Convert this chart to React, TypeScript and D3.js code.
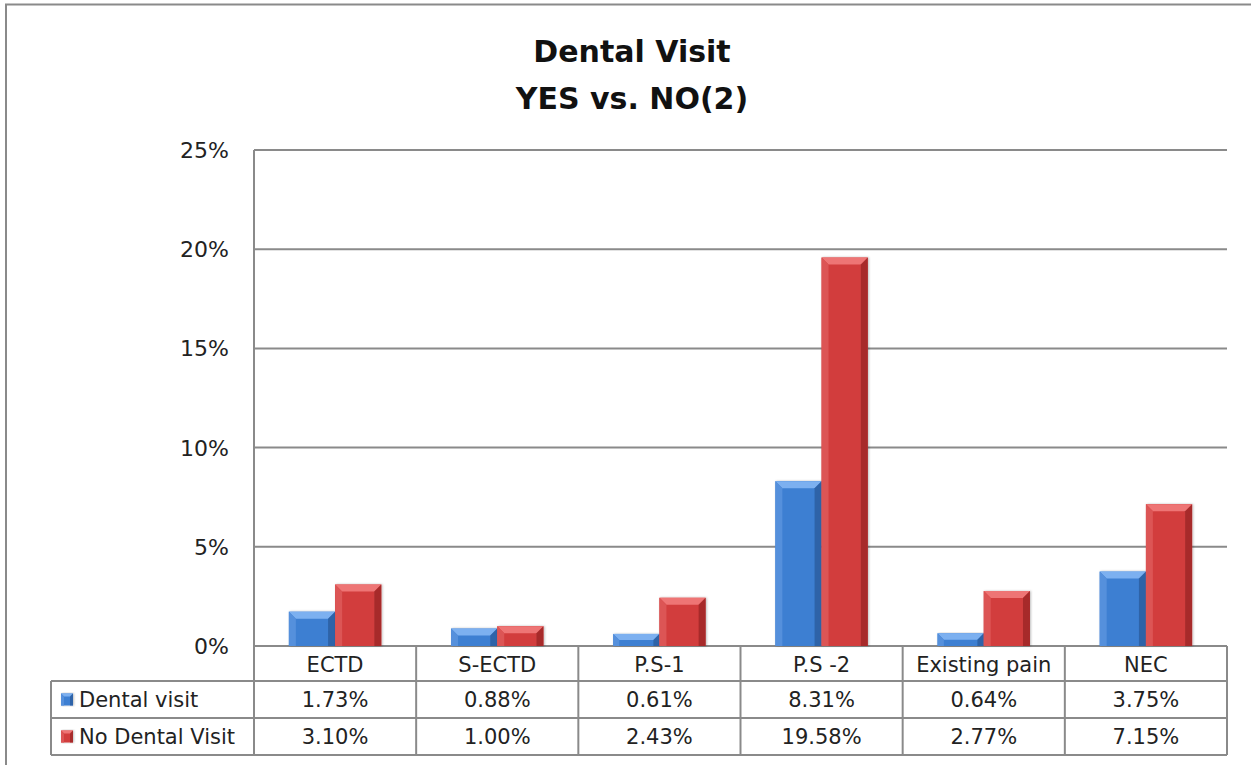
import { format, scaleBand, scaleLinear } from "d3";

// chart data
const categories = ["ECTD", "S-ECTD", "P.S-1", "P.S -2", "Existing pain", "NEC"];
const seriesNames = ["Dental visit", "No Dental Visit"];
const dentalVisit = [0.0173, 0.0088, 0.0061, 0.0831, 0.0064, 0.0375];
const noDentalVisit = [0.031, 0.01, 0.0243, 0.1958, 0.0277, 0.0715];
const yTicks = [0, 0.05, 0.1, 0.15, 0.2, 0.25];

const W = 1251;
const H = 765;
const FONT = "'DejaVu Sans', sans-serif";
const GRID = "#8a8a8a";

const plot = { left: 254, right: 1227, top: 150, bottom: 646 };
const rowH = [35, 37, 37];
const tableLeft = 51;

const palette = [
  { main: "#3d7fd2", light: "#7cb0f0", dark: "#2a5c9e", side: "#5590dc" },
  { main: "#d23e3e", light: "#ee7474", dark: "#9c2828", side: "#dc5454" },
];

const Bar = ({ x, y, w, h, c }: { x: number; y: number; w: number; h: number; c: (typeof palette)[0] }) => {
  const b = Math.min(7, h / 2, w / 4);
  return (
    <g filter="url(#shadow)">
      <rect x={x} y={y} width={w} height={h} fill={c.main} />
      {/* top bevel */}
      <polygon points={`${x},${y} ${x + w},${y} ${x + w - b},${y + b} ${x + b},${y + b}`} fill={c.light} />
      {/* left bevel */}
      <polygon points={`${x},${y} ${x + b},${y + b} ${x + b},${y + h} ${x},${y + h}`} fill={c.side} />
      {/* right bevel */}
      <polygon points={`${x + w},${y} ${x + w - b},${y + b} ${x + w - b},${y + h} ${x + w},${y + h}`} fill={c.dark} opacity={0.8} />
    </g>
  );
};

export default function App() {
  const y = scaleLinear().domain([0, 0.25]).range([plot.bottom, plot.top]);
  const xCol = scaleBand().domain(categories).range([plot.left, plot.right]);
  const xBar = scaleBand()
    .domain(categories)
    .range([plot.left, plot.right])
    .paddingInner(0.43)
    .paddingOuter(0.215);
  const xSeries = scaleBand().domain(seriesNames).range([0, xBar.bandwidth()]);
  const pct = format(".0%");
  const pct2 = format(".2%");
  const values = [dentalVisit, noDentalVisit];

  const r0 = plot.bottom;
  const r1 = r0 + rowH[0];
  const r2 = r1 + rowH[1];
  const r3 = r2 + rowH[2];

  return (
    <svg width={W} height={H} style={{ position: "absolute", left: 0, top: 0, background: "#fff" }}>
      <defs>
        <filter id="shadow" x="-20%" y="-10%" width="140%" height="120%">
          <feDropShadow dx="1" dy="0" stdDeviation="1.2" floodColor="#000" floodOpacity="0.25" />
        </filter>
      </defs>

      {/* outer border */}
      <rect x={6} y={4.5} width={W + 20} height={H + 20} fill="none" stroke={GRID} strokeWidth={2} />

      {/* title */}
      <text x={632} y={62} textAnchor="middle" fontFamily={FONT} fontWeight="bold" fontSize={30} fill="#111">
        Dental Visit
      </text>
      <text x={632} y={109} textAnchor="middle" fontFamily={FONT} fontWeight="bold" fontSize={30} fill="#111">
        YES vs. NO(2)
      </text>

      {/* grid + y labels */}
      {yTicks.map((t) => (
        <g key={t}>
          <line x1={plot.left} x2={plot.right} y1={y(t)} y2={y(t)} stroke={GRID} strokeWidth={2} />
          <text x={229} y={y(t)} dy="0.36em" textAnchor="end" fontFamily={FONT} fontSize={22} fill="#222">
            {pct(t)}
          </text>
        </g>
      ))}
      <line x1={plot.left} x2={plot.left} y1={plot.top} y2={r3} stroke={GRID} strokeWidth={2} />

      {/* bars */}
      {categories.map((cat, i) =>
        seriesNames.map((s, k) => {
          const v = values[k][i];
          const x0 = (xBar(cat) ?? 0) + (xSeries(s) ?? 0);
          return (
            <Bar key={cat + s} x={x0} y={y(v)} w={xSeries.bandwidth()} h={y(0) - y(v)} c={palette[k]} />
          );
        })
      )}

      {/* data table */}
      <g fontFamily={FONT} fontSize={21} fill="#222">
        <line x1={tableLeft} x2={plot.right} y1={r1} y2={r1} stroke={GRID} strokeWidth={2} />
        <line x1={tableLeft} x2={plot.right} y1={r2} y2={r2} stroke={GRID} strokeWidth={2} />
        <line x1={tableLeft} x2={plot.right} y1={r3} y2={r3} stroke={GRID} strokeWidth={2} />
        <line x1={tableLeft} x2={tableLeft} y1={r1} y2={r3} stroke={GRID} strokeWidth={2} />
        {categories.map((cat) => (
          <line
            key={"v" + cat}
            x1={(xCol(cat) ?? 0) + xCol.bandwidth()}
            x2={(xCol(cat) ?? 0) + xCol.bandwidth()}
            y1={r0}
            y2={r3}
            stroke={GRID}
            strokeWidth={2}
          />
        ))}
        {categories.map((cat) => (
          <text key={"c" + cat} x={(xCol(cat) ?? 0) + xCol.bandwidth() / 2} y={(r0 + r1) / 2 + 1} dy="0.36em" textAnchor="middle">
            {cat}
          </text>
        ))}
        {seriesNames.map((s, k) => {
          const top = k === 0 ? r1 : r2;
          const mid = top + rowH[k + 1] / 2;
          return (
            <g key={"row" + s}>
              <Bar x={61} y={mid - 6} w={12} h={12} c={palette[k]} />
              <text x={79} y={mid} dy="0.36em">
                {s}
              </text>
              {categories.map((cat, i) => (
                <text key={s + cat} x={(xCol(cat) ?? 0) + xCol.bandwidth() / 2} y={mid} dy="0.36em" textAnchor="middle">
                  {pct2(values[k][i])}
                </text>
              ))}
            </g>
          );
        })}
      </g>
    </svg>
  );
}
